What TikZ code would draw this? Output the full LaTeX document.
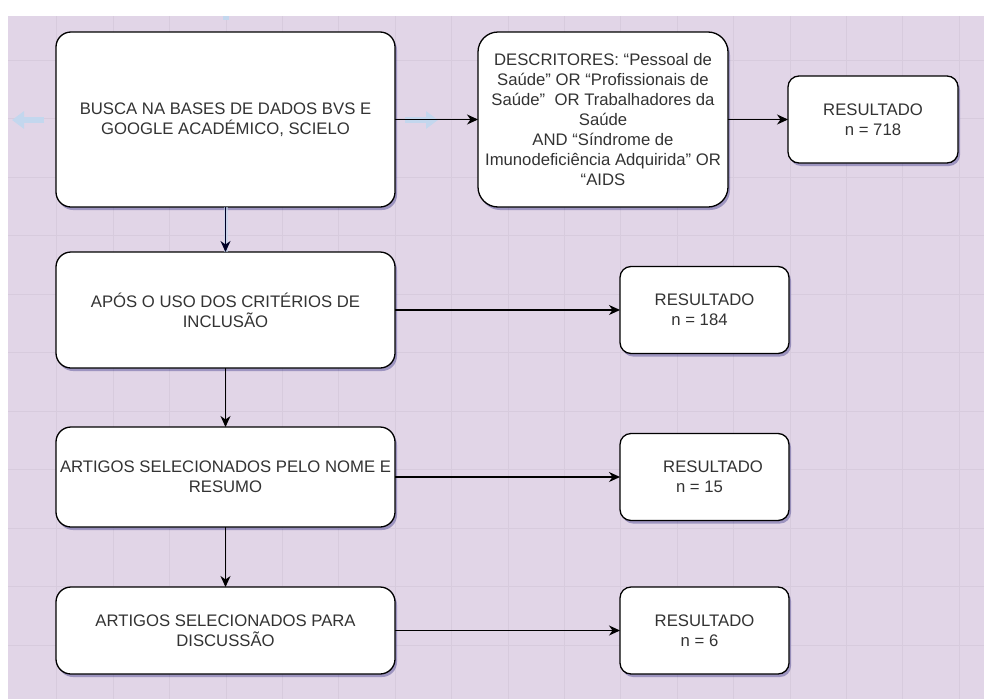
\documentclass[tikz,border=0pt]{standalone}
\usepackage{fontspec}
\setmainfont{Liberation Sans}
\usetikzlibrary{positioning,shadows,arrows.meta}
\definecolor{fundo}{HTML}{E1D5E7}
\definecolor{grade}{HTML}{D7CBDD}
\definecolor{texto}{HTML}{333333}
\definecolor{dica}{HTML}{C3D7EE}

\begin{document}
\begin{tikzpicture}[x=1pt,y=-1pt,
	caixa/.style={line width=1.3pt, rectangle, draw, fill=white, rounded corners=15pt, outer sep=0pt, inner sep=2pt, align=center, text=texto, font=\fontsize{16.7}{20}\selectfont, drop shadow={shadow xshift=2pt, shadow yshift=-3pt, opacity=0.3, fill=black!60!blue}},
	etapa/.style={caixa, minimum width=339pt},
	resultado/.style={caixa, rounded corners=11pt, minimum width=169pt, minimum height=87pt},
	seta/.style={-{Stealth[length=11pt,width=10pt,inset=3.5pt]}, line width=1.2pt},
	dica/.style={-{Triangle[length=12pt,width=17pt]}, line width=6pt, draw=dica}]
	\useasboundingbox (0,0) rectangle (984,699);
	% fundo com grade
	\fill[white] (0,0) rectangle (984,699);
	\fill[fundo] (8,16) rectangle (984,699);
	\foreach \i in {1,...,17}
		\draw[grade, line width=0.8pt] ({0.4+56.4*\i},16) -- ({0.4+56.4*\i},699);
	\foreach \j in {1,...,11}
		\draw[grade, line width=0.8pt] (8,{1.5+58.5*\j}) -- (984,{1.5+58.5*\j});
	
	\node [etapa, minimum height=175pt] (busca) at (225.5,119.5) {BUSCA NA BASES DE DADOS BVS E\\GOOGLE ACADÉMICO, SCIELO};
	\node [caixa, rounded corners=20pt, minimum width=250pt, minimum height=175pt, right = 83pt of busca] (descr) {DESCRITORES: “Pessoal de\\Saúde” OR “Profissionais de\\Saúde”\ \ OR Trabalhadores da\\Saúde\\AND “Síndrome de\\Imunodeficiência Adquirida” OR\\“AIDS};
	\node [resultado, minimum width=170pt, right = 60pt of descr] (res1) {RESULTADO\\n = 718};
	
	\node [etapa, minimum height=116pt, below = 45pt of busca] (apos) {APÓS O USO DOS CRITÉRIOS DE\\INCLUSÃO};
	\node [etapa, minimum height=100pt, below = 59pt of apos] (nome) {ARTIGOS SELECIONADOS PELO NOME E\\RESUMO};
	\node [etapa, minimum height=87pt, below = 60pt of nome] (disc) {ARTIGOS SELECIONADOS PARA\\DISCUSSÃO};
	
	\node [resultado, right = 225pt of apos] (res2) {RESULTADO\\n = 184\hspace*{10pt}};
	\node [resultado, right = 225pt of nome] (res3) {\hspace*{17pt}RESULTADO\\n = 15\hspace*{10pt}};
	\node [resultado, right = 225pt of disc] (res4) {RESULTADO\\n = 6\hspace*{10pt}};
	
	% setas azuis do editor
	\coordinate (dicaE1) at (44,120);
	\coordinate (dicaE2) at (12,120);
	\coordinate (dicaD1) at (405,120);
	\coordinate (dicaD2) at (438,120);
	\coordinate (dicaC1) at (226,16);
	\coordinate (dicaC2) at (226,20);
	\draw[dica] (dicaE1) -- (dicaE2);
	\draw[dica] (dicaD1) -- (dicaD2);
	\draw[dica, -] (dicaC1) -- (dicaC2);
	\draw[dica, -, line width=4pt, opacity=0.6] (busca.south) -- (apos.north);
	
	\draw [seta] (busca.east) -- (descr.west);
	\draw [seta] (descr.east) -- (res1.west);
	\draw [seta, draw=black!85!blue] (busca.south) -- (apos.north);
	\draw [seta] (apos.south) -- (nome.north);
	\draw [seta] (nome.south) -- (disc.north);
	\draw [seta] (apos.east) -- (res2.west);
	\draw [seta] (nome.east) -- (res3.west);
	\draw [seta] (disc.east) -- (res4.west);
\end{tikzpicture}
\end{document}
